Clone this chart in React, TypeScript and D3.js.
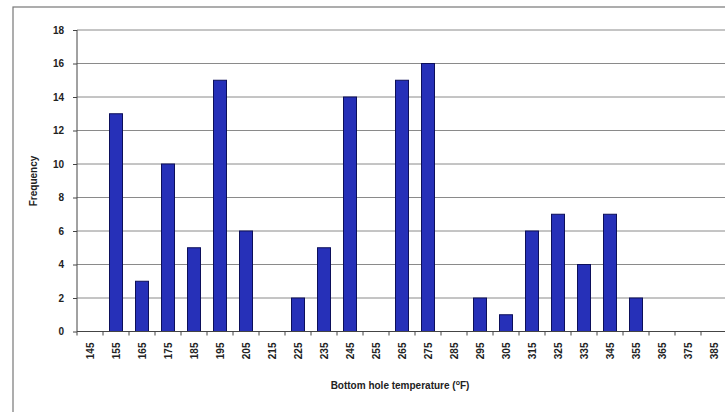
import { useEffect, useRef } from "react";
import * as d3 from "d3";

const temps = [
  145, 155, 165, 175, 185, 195, 205, 215, 225, 235, 245, 255, 265,
  275, 285, 295, 305, 315, 325, 335, 345, 355, 365, 375, 385,
];
const freq = [
  0, 13, 3, 10, 5, 15, 6, 0, 2, 5, 14, 0, 15,
  16, 0, 2, 1, 6, 7, 4, 7, 2, 0, 0, 0,
];
const yTicks = [0, 2, 4, 6, 8, 10, 12, 14, 16, 18];

export default function App() {
  const svgRef = useRef<SVGSVGElement>(null);

  useEffect(() => {
    if (!svgRef.current) return;
    const svg = d3.select(svgRef.current);
    svg.selectAll("*").remove();

    const W = 725;
    const H = 412;
    const left = 77;
    const right = 727;
    const top = 30;
    const bottom = 331.5;

    svg.attr("width", W).attr("height", H);

    svg.append("rect").attr("width", W).attr("height", H).attr("fill", "#fff");

    // outer chart frame
    svg
      .append("rect")
      .attr("x", 13)
      .attr("y", 7)
      .attr("width", 730)
      .attr("height", 420)
      .attr("fill", "none")
      .attr("stroke", "#777")
      .attr("stroke-width", 1.2);

    const x = d3
      .scaleBand<number>()
      .domain(temps)
      .range([left, right])
      .paddingInner(0.5)
      .paddingOuter(0.25);

    const bandStep = (right - left) / temps.length;

    const y = d3.scaleLinear().domain([0, 18]).range([bottom, top]);

    // gridlines
    svg
      .append("g")
      .selectAll("line")
      .data(yTicks.slice(1))
      .enter()
      .append("line")
      .attr("x1", left)
      .attr("x2", right)
      .attr("y1", (d) => y(d))
      .attr("y2", (d) => y(d))
      .attr("stroke", "#8a8a8a")
      .attr("stroke-width", 1);

    // bars
    svg
      .append("g")
      .selectAll("rect")
      .data(temps)
      .enter()
      .append("rect")
      .attr("x", (d) => x(d)!)
      .attr("y", (_, i) => y(freq[i]))
      .attr("width", x.bandwidth())
      .attr("height", (_, i) => bottom - y(freq[i]))
      .attr("fill", "#2630b8")
      .attr("stroke", "#0c0f5a")
      .attr("stroke-width", 1);

    // y axis
    const yAxis = svg
      .append("g")
      .attr("transform", `translate(${left},0)`)
      .call(
        d3
          .axisLeft(y)
          .tickValues(yTicks)
          .tickSize(4)
          .tickPadding(9)
          .tickFormat(d3.format("d"))
      );
    yAxis.select(".domain").attr("stroke", "#444").attr("d", `M0,${top}V${bottom}`);
    yAxis.selectAll(".tick line").attr("stroke", "#444");
    yAxis
      .selectAll("text")
      .attr("fill", "#222")
      .style("font-family", "Arial, 'Liberation Sans', sans-serif")
      .style("font-size", "10px")
      .style("font-weight", "bold");

    // x axis line
    svg
      .append("line")
      .attr("x1", left)
      .attr("x2", right)
      .attr("y1", bottom)
      .attr("y2", bottom)
      .attr("stroke", "#444");

    // x tick marks at band boundaries
    svg
      .append("g")
      .selectAll("line")
      .data(temps)
      .enter()
      .append("line")
      .attr("x1", (d) => x(d)! - x.bandwidth() / 2)
      .attr("x2", (d) => x(d)! - x.bandwidth() / 2)
      .attr("y1", bottom)
      .attr("y2", bottom + 4)
      .attr("stroke", "#444");

    // x tick labels rotated
    svg
      .append("g")
      .selectAll("text")
      .data(temps)
      .enter()
      .append("text")
      .attr(
        "transform",
        (d) => `translate(${x(d)! + x.bandwidth() / 2 + 3.5},${bottom + 11}) rotate(-90)`
      )
      .attr("text-anchor", "end")
      .attr("fill", "#222")
      .style("font-family", "Arial, 'Liberation Sans', sans-serif")
      .style("font-size", "10px")
      .style("font-weight", "bold")
      .text((d) => String(d));

    void bandStep;

    // axis titles
    svg
      .append("text")
      .attr("transform", `translate(37,181) rotate(-90)`)
      .attr("text-anchor", "middle")
      .attr("fill", "#222")
      .style("font-family", "Arial, 'Liberation Sans', sans-serif")
      .style("font-size", "10px")
      .style("font-weight", "bold")
      .text("Frequency");

    const xt = svg
      .append("text")
      .attr("x", 400)
      .attr("y", 389)
      .attr("text-anchor", "middle")
      .attr("fill", "#222")
      .style("font-family", "Arial, 'Liberation Sans', sans-serif")
      .style("font-size", "10px")
      .style("font-weight", "bold");
    xt.append("tspan").text("Bottom hole temperature (");
    xt.append("tspan").attr("dy", -4).style("font-size", "7px").text("o");
    xt.append("tspan").attr("dy", 4).text("F)");
  }, []);

  return (
    <div style={{ position: "absolute", left: 0, top: 0 }}>
      <svg ref={svgRef}></svg>
    </div>
  );
}
